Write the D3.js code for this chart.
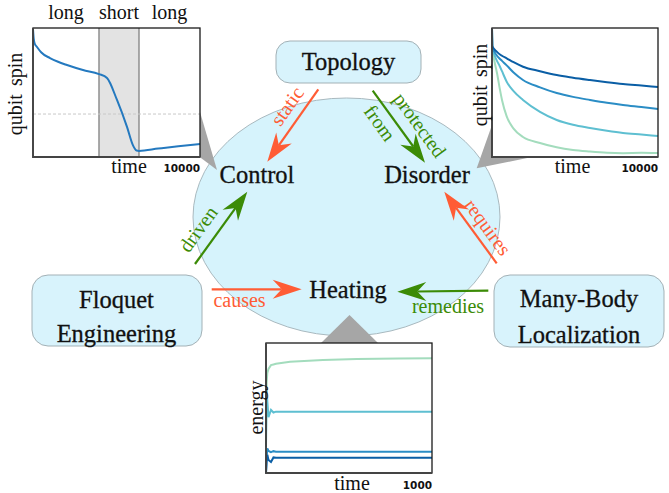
<!DOCTYPE html>
<html>
<head>
<meta charset="utf-8">
<script src="https://cdn.jsdelivr.net/npm/d3@7"></script>
<style>
  body { margin: 0; background: #fff; }
  svg { display: block; }
</style>
</head>
<body>
<svg id="fig"></svg>
<script>
/* ---- data ---- */

// control inset: qubit spin through long / short / long pulses
var pulseTime = [0, 40, 100, 240, 500, 1018, 1500, 2036, 2994, 3952, 4431, 5030, 5629, 5988, 6200, 6347, 7500, 8700, 10000];
var pulseSpin = [0.99, 0.92, 0.88, 0.853, 0.81, 0.767, 0.738, 0.713, 0.674, 0.643, 0.612, 0.442, 0.233, 0.09, 0.05, 0.047, 0.065, 0.083, 0.10];
var pulseBands = ['long', 'short', 'long'];
var bandEdges = [0, 3952, 6347, 10000];
var dashLevel = 0.333;

// disorder inset: spin decay for four disorder strengths
var decayTime = [0, 20, 150, 300, 482, 602, 885, 1300, 1867, 2892, 3898, 4880, 5904, 6928, 7892, 9000, 10000];
var decayStrong = [1, 0.86, 0.835, 0.815, 0.795, 0.785, 0.765, 0.735, 0.70, 0.665, 0.635, 0.615, 0.597, 0.58, 0.566, 0.554, 0.543];
var decayMid = [1, 0.855, 0.815, 0.785, 0.76, 0.745, 0.71, 0.655, 0.597, 0.54, 0.496, 0.466, 0.442, 0.42, 0.403, 0.387, 0.372];
var decayWeak = [1, 0.85, 0.79, 0.745, 0.70, 0.665, 0.584, 0.51, 0.442, 0.35, 0.287, 0.25, 0.225, 0.203, 0.186, 0.174, 0.163];
var decayNone = [1, 0.84, 0.74, 0.651, 0.52, 0.442, 0.315, 0.22, 0.155, 0.109, 0.075, 0.054, 0.042, 0.033, 0.03, 0.032, 0.031];

// heating inset: energy vs time
var heatTime = [0, 4, 8, 15, 30, 45, 60, 145, 343, 548, 800, 1000];
var heatNone = [0.30, 0.70, 0.77, 0.80, 0.83, 0.835, 0.84, 0.856, 0.869, 0.877, 0.88, 0.882];
var heatWeak = [0.20, 0.66, 0.55, 0.43, 0.485, 0.465, 0.472, 0.472, 0.472, 0.472, 0.472, 0.472];
var heatMid = [0.0, 0.12, 0.19, 0.17, 0.16, 0.168, 0.164, 0.164, 0.164, 0.164, 0.164, 0.164];
var heatStrong = [0.0, 0.10, 0.14, 0.10, 0.085, 0.12, 0.117, 0.118, 0.118, 0.118, 0.118, 0.118];

var seriesColors = ['#a3dcbd', '#5ebfd1', '#2b8dc5', '#0a5ea5'];

// diagram text
var boxLabels = [['Topology'], ['Floquet', 'Engineering'], ['Many-Body', 'Localization']];
var nodeLabels = ['Control', 'Disorder', 'Heating'];
var edgeLabels = [['static'], ['protected', 'from'], ['driven'], ['requires'], ['causes'], ['remedies']];

/* ---- layout ---- */
var width = 669, height = 493;
var orange = '#ff5c35', green = '#3b8b06';
var serif = 'Liberation Serif, Times New Roman, serif';

var boxes = [
  {x: 276, y: 41, w: 145, h: 42, r: 14, tx: 348.5, ty: [69.5]},
  {x: 32, y: 275, w: 170, h: 71, r: 16, tx: 116.5, ty: [308, 342]},
  {x: 494, y: 275, w: 170, h: 72, r: 16, tx: 579, ty: [307, 343]}
];
var nodes = [
  {x: 257, y: 183.3},
  {x: 427, y: 182.7},
  {x: 348, y: 298.3}
];
// arrows: start, tip, colour, label centres (rotated ones follow the arrow)
var edges = [
  {x1: 318.3, y1: 89.3, x2: 267.3, y2: 161.7, c: orange, rot: true, at: [[287, 106]]},
  {x1: 372.7, y1: 90.7, x2: 425, y2: 162.7, c: green, rot: true, at: [[420, 125], [380, 123]]},
  {x1: 195, y1: 264, x2: 247.3, y2: 191.7, c: green, rot: true, at: [[198, 229]]},
  {x1: 496.7, y1: 263.3, x2: 444.3, y2: 191.7, c: orange, rot: true, at: [[488, 227]]},
  {x1: 211.7, y1: 289.3, x2: 301.7, y2: 289.3, c: orange, rot: false, at: [[239.5, 307.3]]},
  {x1: 488.3, y1: 290.7, x2: 397.3, y2: 291.7, c: green, rot: false, at: [[448, 313.3]]}
];

var svg = d3.select('#fig').attr('width', width).attr('height', height);

// the big ellipse
svg.append('ellipse')
  .attr('cx', 346.5).attr('cy', 217).attr('rx', 153.5).attr('ry', 119)
  .attr('fill', '#d6f3fc').attr('stroke', '#a9b9bf').attr('stroke-width', 1);

// rounded boxes
svg.selectAll('.box').data(boxes).enter()
  .append('rect')
    .attr('class', 'box')
    .attr('x', function (d) { return d.x; })
    .attr('y', function (d) { return d.y; })
    .attr('width', function (d) { return d.w; })
    .attr('height', function (d) { return d.h; })
    .attr('rx', function (d) { return d.r; })
    .attr('fill', '#d8f3fc').attr('stroke', '#a3b1b6').attr('stroke-width', 1);

boxes.forEach(function (b, i) {
  boxLabels[i].forEach(function (line, j) {
    svg.append('text')
      .attr('x', b.tx).attr('y', b.ty[j])
      .attr('text-anchor', 'middle')
      .style('font-family', serif).style('font-size', '24.5px').style('fill', '#111')
      .style('stroke', '#111').style('stroke-width', 0.3)
      .text(line);
  });
});

// grey callout wedges (drawn under the insets)
var wedges = [
  [[200, 112], [217, 170], [185, 146]],
  [[492, 125], [476.7, 168.3], [532, 157]],
  [[349.5, 315], [321, 343], [378, 343]]
];
svg.selectAll('.wedge').data(wedges).enter()
  .append('polygon')
    .attr('points', function (d) { return d.join(' '); })
    .attr('fill', '#a6a6a6');

/* ---- insets ---- */
function inset (x0, y0, w, h, tMax) {
  var g = svg.append('g');
  g.append('rect').attr('x', x0).attr('y', y0).attr('width', w).attr('height', h).attr('fill', '#fff');
  var xs = d3.scaleLinear().domain([0, tMax]).range([x0, x0 + w]);
  var ys = d3.scaleLinear().domain([0, 1]).range([y0 + h, y0]);
  return {g: g, x: xs, y: ys, x0: x0, y0: y0, w: w, h: h};
}
function frame (p) {
  p.g.append('rect').attr('x', p.x0).attr('y', p.y0).attr('width', p.w).attr('height', p.h)
    .attr('fill', 'none').attr('stroke', '#1a1a1a').attr('stroke-width', 1.3);
  p.g.append('path')
    .attr('d', 'M' + p.x0 + ',' + p.y0 + 'V' + (p.y0 + p.h) + 'H' + (p.x0 + p.w))
    .attr('fill', 'none').attr('stroke', '#444').attr('stroke-width', 1.8);
}
function plotLine (p, ts, vs, color, curve) {
  var line = d3.line()
    .x(function (d) { return p.x(d[0]); })
    .y(function (d) { return p.y(d[1]); })
    .curve(curve);
  p.g.append('path')
    .datum(d3.zip(ts, vs))
    .attr('d', line)
    .attr('fill', 'none').attr('stroke', color).attr('stroke-width', 2);
}
function label (g, x, y, str, opts) {
  var t = g.append('text').attr('x', x).attr('y', y)
    .attr('text-anchor', opts.anchor || 'middle')
    .style('font-family', opts.font || serif)
    .style('font-size', opts.size || '20px')
    .style('fill', opts.color || '#111')
    .text(str);
  if (opts.weight) t.style('font-weight', opts.weight);
  if (opts.rotate) t.attr('transform', 'rotate(' + opts.rotate + ',' + x + ',' + y + ')');
  return t;
}

// control inset
var pc = inset(33, 28, 167, 129, 10000);
pc.g.append('rect')
  .attr('x', pc.x(bandEdges[1])).attr('y', pc.y0)
  .attr('width', pc.x(bandEdges[2]) - pc.x(bandEdges[1])).attr('height', pc.h)
  .attr('fill', '#e3e3e3');
[bandEdges[1], bandEdges[2]].forEach(function (t) {
  pc.g.append('line').attr('x1', pc.x(t)).attr('x2', pc.x(t)).attr('y1', pc.y0).attr('y2', pc.y0 + pc.h)
    .attr('stroke', '#8f8f8f').attr('stroke-width', 1.5);
});
pc.g.append('line')
  .attr('x1', pc.x0).attr('x2', pc.x0 + pc.w).attr('y1', pc.y(dashLevel)).attr('y2', pc.y(dashLevel))
  .attr('stroke', '#c8c8c8').attr('stroke-width', 1).attr('stroke-dasharray', '3,2');
plotLine(pc, pulseTime, pulseSpin, '#2479bf', d3.curveMonotoneX);
frame(pc);
pulseBands.forEach(function (b, i) {
  label(svg, pc.x((bandEdges[i] + bandEdges[i + 1]) / 2), 18.5, b, {});
});
label(svg, 22, 94, 'qubit spin', {rotate: -90}).style('word-spacing', '3px');
label(svg, 129, 173, 'time', {});
label(svg, 200, 172, '10000', {anchor: 'end', font: 'DejaVu Sans, sans-serif', size: '10.5px', weight: 'bold'});

// disorder inset
var pd = inset(492, 28, 166, 129, 10000);
[decayNone, decayWeak, decayMid, decayStrong].forEach(function (s, i) {
  plotLine(pd, decayTime, s, seriesColors[i], d3.curveMonotoneX);
});
frame(pd);
label(svg, 486.7, 85, 'qubit spin', {rotate: -90}).style('word-spacing', '3px');
label(svg, 572.5, 173, 'time', {});
label(svg, 658, 172, '10000', {anchor: 'end', font: 'DejaVu Sans, sans-serif', size: '10.5px', weight: 'bold'});

// heating inset
var ph = inset(266, 343, 166, 130, 1000);
[heatNone, heatWeak, heatMid, heatStrong].forEach(function (s, i) {
  plotLine(ph, heatTime, s, seriesColors[i], d3.curveLinear);
});
frame(ph);
label(svg, 263, 407.5, 'energy', {rotate: -90});
label(svg, 352, 490, 'time', {});
label(svg, 432, 489, '1000', {anchor: 'end', font: 'DejaVu Sans, sans-serif', size: '10.5px', weight: 'bold'});

/* ---- arrows ---- */
var headLen = 29, headHalf = 9.5, notch = 20;
edges.forEach(function (e, i) {
  var dx = e.x2 - e.x1, dy = e.y2 - e.y1;
  var len = Math.sqrt(dx * dx + dy * dy);
  var ux = dx / len, uy = dy / len, nx = -uy, ny = ux;
  var bx = e.x2 - ux * headLen, by = e.y2 - uy * headLen;
  var mx = e.x2 - ux * notch, my = e.y2 - uy * notch;
  svg.append('line')
    .attr('x1', e.x1).attr('y1', e.y1).attr('x2', mx).attr('y2', my)
    .attr('stroke', e.c).attr('stroke-width', 2.2);
  svg.append('path')
    .attr('d', 'M' + e.x2 + ',' + e.y2 +
      'L' + (bx + nx * headHalf) + ',' + (by + ny * headHalf) +
      'L' + mx + ',' + my +
      'L' + (bx - nx * headHalf) + ',' + (by - ny * headHalf) + 'Z')
    .attr('fill', e.c);

  var ang = Math.atan2(dy, dx) * 180 / Math.PI;
  if (ang > 90) ang -= 180;
  if (ang < -90) ang += 180;
  edgeLabels[i].forEach(function (str, j) {
    var t = label(svg, e.at[j][0], e.at[j][1], str, {color: e.c, rotate: e.rot ? ang : 0});
    if (e.rot) t.attr('dominant-baseline', 'central');
  });
});

// node words inside the ellipse
nodes.forEach(function (n, i) {
  svg.append('text')
    .attr('x', n.x).attr('y', n.y)
    .attr('text-anchor', 'middle')
    .style('font-family', serif).style('font-size', '24.5px').style('fill', '#111')
    .style('stroke', '#111').style('stroke-width', 0.3)
    .text(nodeLabels[i]);
});
</script>
</body>
</html>
